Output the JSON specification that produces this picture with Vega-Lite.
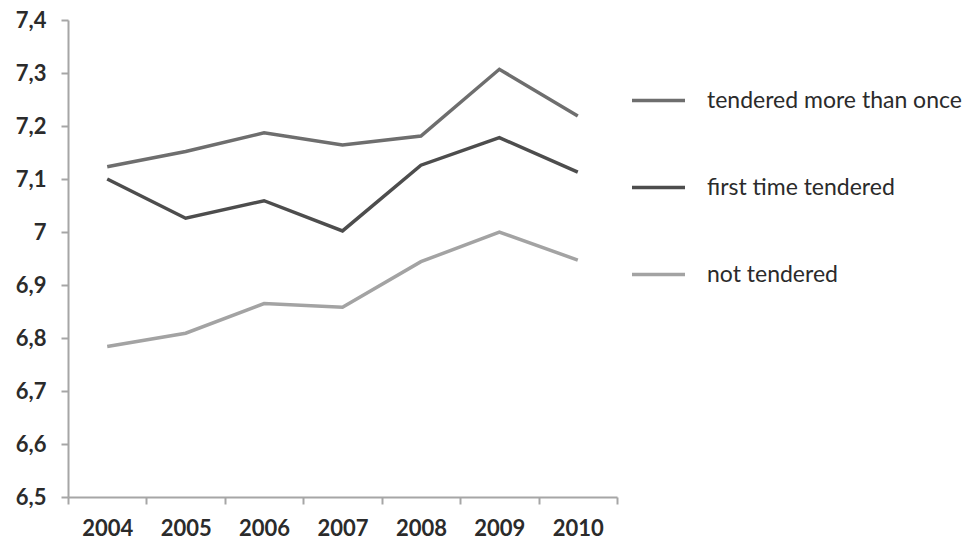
{
  "$schema": "https://vega.github.io/schema/vega-lite/v6.json",
  "autosize": "none",
  "padding": {"left": 68, "top": 20, "right": 354, "bottom": 48},
  "width": 549,
  "height": 477,
  "background": "white",
  "data": {"values": [
    {"year": "2004", "series": "tendered more than once", "value": 7.123},
    {"year": "2005", "series": "tendered more than once", "value": 7.152},
    {"year": "2006", "series": "tendered more than once", "value": 7.187},
    {"year": "2007", "series": "tendered more than once", "value": 7.164},
    {"year": "2008", "series": "tendered more than once", "value": 7.181},
    {"year": "2009", "series": "tendered more than once", "value": 7.307},
    {"year": "2010", "series": "tendered more than once", "value": 7.219},
    {"year": "2004", "series": "first time tendered", "value": 7.1},
    {"year": "2005", "series": "first time tendered", "value": 7.026},
    {"year": "2006", "series": "first time tendered", "value": 7.059},
    {"year": "2007", "series": "first time tendered", "value": 7.002},
    {"year": "2008", "series": "first time tendered", "value": 7.126},
    {"year": "2009", "series": "first time tendered", "value": 7.178},
    {"year": "2010", "series": "first time tendered", "value": 7.113},
    {"year": "2004", "series": "not tendered", "value": 6.784},
    {"year": "2005", "series": "not tendered", "value": 6.809},
    {"year": "2006", "series": "not tendered", "value": 6.865},
    {"year": "2007", "series": "not tendered", "value": 6.858},
    {"year": "2008", "series": "not tendered", "value": 6.944},
    {"year": "2009", "series": "not tendered", "value": 7.0},
    {"year": "2010", "series": "not tendered", "value": 6.947}
  ]},
  "mark": {"type": "line", "strokeWidth": 3.5},
  "encoding": {
    "x": {
      "field": "year", "type": "ordinal",
      "scale": {"type": "band", "paddingInner": 0, "paddingOuter": 0},
      "axis": {
        "title": null, "labelAngle": 0, "tickBand": "extent",
        "domainColor": "#a6a6a6", "domainWidth": 2, "tickColor": "#a6a6a6", "tickWidth": 2, "tickSize": 7,
        "labelFont": "Lato", "labelFontWeight": "bold", "labelFontSize": 22, "labelColor": "#2b2b2b",
        "labelPadding": 14
      }
    },
    "y": {
      "field": "value", "type": "quantitative",
      "scale": {"domain": [6.5, 7.4], "zero": false, "nice": false},
      "axis": {
        "title": null, "values": [6.5, 6.6, 6.7, 6.8, 6.9, 7.0, 7.1, 7.2, 7.3, 7.4],
        "labelExpr": "replace(format(datum.value, '.1~f'), '.', ',')",
        "grid": false,
        "domainColor": "#a6a6a6", "domainWidth": 2, "tickColor": "#a6a6a6", "tickWidth": 2, "tickSize": 7,
        "labelFont": "Lato", "labelFontWeight": "bold", "labelFontSize": 22, "labelColor": "#2b2b2b",
        "labelPadding": 15
      }
    },
    "color": {
      "field": "series", "type": "nominal",
      "scale": {
        "domain": ["tendered more than once", "first time tendered", "not tendered"],
        "range": ["#6e6e6e", "#4d4d4d", "#a3a3a3"]
      },
      "legend": {
        "title": null, "orient": "none", "legendX": 562, "legendY": 52,
        "symbolType": "stroke", "symbolSize": 2809, "symbolStrokeWidth": 3.5,
        "labelFont": "Lato", "labelFontSize": 23, "labelColor": "#2b2b2b",
        "labelOffset": 20, "rowPadding": 46, "labelLimit": 400
      }
    }
  },
  "config": {"view": {"stroke": null}}
}
